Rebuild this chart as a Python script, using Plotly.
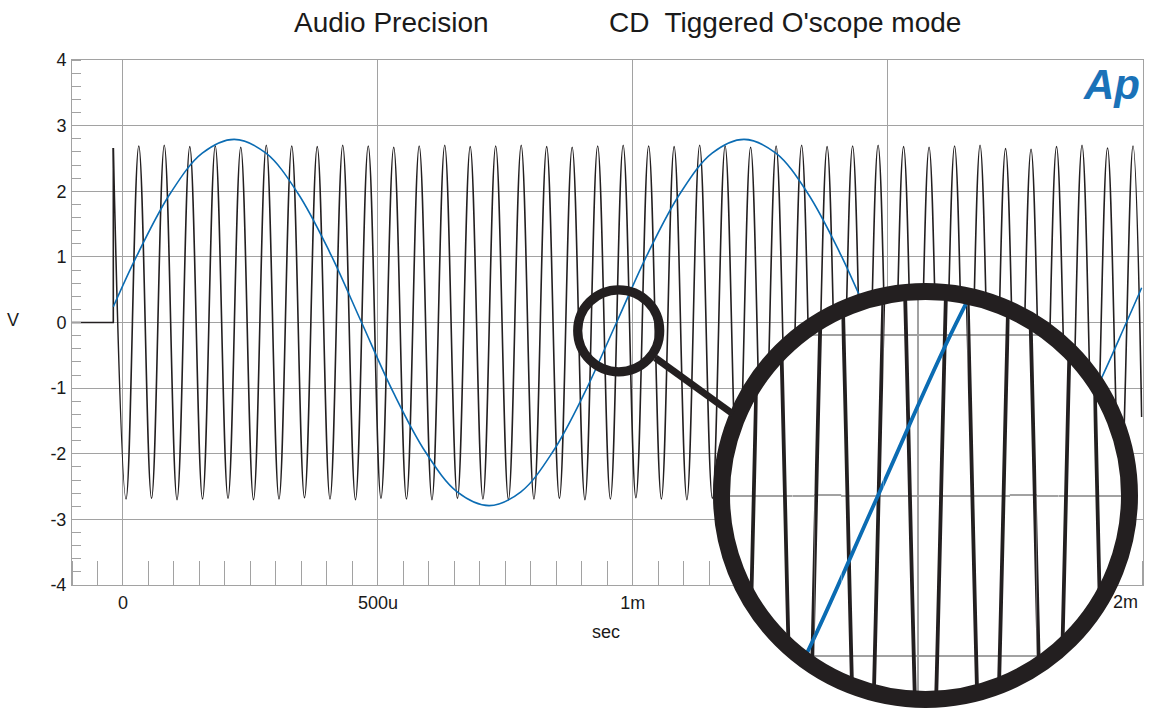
import numpy as np
import plotly.graph_objects as go

# ---------------- data ----------------
# Black: triggered 20 kHz burst. Flat pre-trigger part, then alternating
# peaks / troughs (V) every 25 us, starting at the trigger point.
pre_t = [-0.10, -0.019, -0.019]          # ms
pre_v = [0.0, 0.0, 2.66]                 # V
black_first_ext = -0.019                 # ms (time of first peak)
black_ext_step = 0.025                   # ms between successive extrema
black_peaks = [2.66, 2.69, 2.70, 2.68, 2.69, 2.67, 2.70, 2.69, 2.68, 2.70,
               2.69, 2.67, 2.69, 2.70, 2.68, 2.69, 2.70, 2.68, 2.67, 2.69,
               2.70, 2.69, 2.68, 2.70, 2.69, 2.67, 2.69, 2.70, 2.68, 2.69,
               2.70, 2.68, 2.67, 2.69, 2.70, 2.65, 2.64, 2.68, 2.70, 2.66,
               2.69]
black_troughs = [-2.69, -2.68, -2.70, -2.69, -2.68, -2.70, -2.69, -2.67, -2.69, -2.70,
                 -2.68, -2.69, -2.70, -2.68, -2.69, -2.70, -2.69, -2.68, -2.70, -2.69,
                 -2.67, -2.69, -2.70, -2.68, -2.69, -2.70, -2.69, -2.68, -2.70, -2.69,
                 -2.67, -2.69, -2.70, -2.68, -2.69, -2.70, -2.69, -2.68, -2.70, -2.69]
black_end_t, black_end_v = 1.998, -1.44

# Blue: 1 kHz tone, read at peaks, troughs, zero crossings and in between
blue_t = [-0.019, 0.0305, 0.093, 0.1555, 0.218, 0.2805, 0.343, 0.4055, 0.468,
          0.5305, 0.593, 0.6555, 0.718, 0.7805, 0.843, 0.9055, 0.968,
          1.0305, 1.093, 1.1555, 1.218, 1.2805, 1.343, 1.4055, 1.468,
          1.5305, 1.593, 1.6555, 1.718, 1.7805, 1.843, 1.9055, 1.968, 1.998]
blue_v = [0.24, 1.07, 1.97, 2.58, 2.79, 2.58, 1.97, 1.07, 0.0,
          -1.07, -1.97, -2.58, -2.79, -2.58, -1.97, -1.07, 0.0,
          1.07, 1.97, 2.58, 2.79, 2.58, 1.97, 1.07, 0.0,
          -1.07, -1.97, -2.58, -2.79, -2.58, -1.97, -1.07, 0.0, 0.53]

x_tick_vals = [0.0, 0.5, 1.0, 1.5, 2.0]
x_tick_text = ["0", "500u", "1m", "1.5m", "2m"]
y_tick_vals = [-4, -3, -2, -1, 0, 1, 2, 3, 4]
y_tick_text = ["-4", "-3", "-2", "-1", "0", "1", "2", "3", "4"]

title_left = "Audio Precision"
title_right = "CD\u00a0 Tiggered O'scope mode"
x_title, y_title = "sec", "V"

# ---------------- assemble series ----------------
ext_v = []
for i, pk in enumerate(black_peaks):
    ext_v.append(pk)
    if i < len(black_troughs):
        ext_v.append(black_troughs[i])
ext_t = list(black_first_ext + black_ext_step * np.arange(len(ext_v)))
black_t = ext_t + [black_end_t]
black_v = ext_v + [black_end_v]

# ---------------- styling / geometry ----------------
W, H = 1149, 708
PL, PR, PT, PB = 72.0, 1142.7, 60.0, 585.0
X_RANGE, Y_RANGE = [-0.1, 2.0], [-4.0, 4.0]
BLACK, BLUE, GRID = "#231f20", "#0b6cb3", "#a2a2a2"
FONT = "Arial, Liberation Sans, sans-serif"
px_ms = (PR - PL) / (X_RANGE[1] - X_RANGE[0])
px_V = (PB - PT) / (Y_RANGE[1] - Y_RANGE[0])


def fx(x):
    return x / W


def fy(y):
    return 1 - y / H


fig = go.Figure()

# main traces
fig.add_trace(go.Scatter(x=pre_t, y=pre_v, mode="lines",
                         line=dict(color=BLACK, width=1.6), hoverinfo="skip"))
fig.add_trace(go.Scatter(x=black_t, y=black_v, mode="lines",
                         line=dict(color=BLACK, width=1.6, shape="spline",
                                   smoothing=1.1, simplify=False),
                         hoverinfo="skip"))
fig.add_trace(go.Scatter(x=blue_t, y=blue_v, mode="lines",
                         line=dict(color=BLUE, width=1.6, shape="spline",
                                   smoothing=1.0, simplify=False),
                         hoverinfo="skip"))

layout = dict(
    width=W, height=H, autosize=False,
    margin=dict(l=0, r=0, t=0, b=0, pad=0, autoexpand=False),
    paper_bgcolor="white", plot_bgcolor="white",
    showlegend=False,
    font=dict(family=FONT, color="#1a1a1a", size=18),
    xaxis=dict(domain=[fx(PL), fx(PR)], range=X_RANGE, anchor="y",
               showgrid=True, gridcolor=GRID, gridwidth=1,
               tickvals=x_tick_vals,
               ticktext=x_tick_text[:-1] + [""],
               ticks="", showline=True, mirror=True, linecolor=GRID, linewidth=1,
               zeroline=False, ticklabelstandoff=1, automargin=False,
               tickfont=dict(size=18, family=FONT, color="#1a1a1a"),
               minor=dict(dtick=0.05, tick0=0, ticks="inside", ticklen=24,
                          tickcolor=GRID, tickwidth=1, showgrid=False),
               fixedrange=True),
    yaxis=dict(domain=[fy(PB), fy(PT)], range=Y_RANGE, anchor="x",
               showgrid=True, gridcolor=GRID, gridwidth=1,
               tickvals=y_tick_vals, ticktext=y_tick_text,
               ticks="", showline=True, mirror=True, linecolor=GRID, linewidth=1,
               zeroline=False, ticklabelstandoff=1, automargin=False,
               tickfont=dict(size=18, family=FONT, color="#1a1a1a"),
               minor=dict(dtick=0.2, tick0=0, ticks="inside", ticklen=9,
                          tickcolor=GRID, tickwidth=1, showgrid=False),
               fixedrange=True),
)

shapes = []

# ---------------- magnifier inset ----------------
MAG = 2.45
CX, CY = 925.5, 495.5            # centre of big lens (px)
T_C, V_C = 1.006, 0.0            # data point shown at lens centre
R_RING, RING_W = 204.0, 17.0
R_OUT = R_RING + RING_W / 2 - 2.5
R_IN = R_RING - RING_W / 2 + 1.5
in_px_ms, in_px_V = px_ms * MAG, px_V * MAG

half_heights = []
y_near = 0.0
while y_near < R_IN:
    y_far = float(np.sqrt(R_OUT ** 2 - R_IN ** 2 + y_near ** 2))
    if y_far >= R_OUT:
        break
    half_heights.append(y_far)
    y_near = y_far

for k, Yh in enumerate(half_heights):
    n = k + 2
    Wh = float(np.sqrt(R_OUT ** 2 - Yh ** 2))
    xr = [T_C - Wh / in_px_ms, T_C + Wh / in_px_ms]
    yr = [V_C - Yh / in_px_V, V_C + Yh / in_px_V]
    layout[f"xaxis{n}"] = dict(domain=[fx(CX - Wh), fx(CX + Wh)], range=xr,
                               anchor=f"y{n}", showgrid=True, gridcolor=GRID,
                               gridwidth=2, tickvals=x_tick_vals,
                               showticklabels=False, ticks="", showline=False,
                               zeroline=False, fixedrange=True, automargin=False)
    layout[f"yaxis{n}"] = dict(domain=[fy(CY + Yh), fy(CY - Yh)], range=yr,
                               anchor=f"x{n}", showgrid=True, gridcolor=GRID,
                               gridwidth=2, tickvals=y_tick_vals,
                               showticklabels=False, ticks="", showline=False,
                               zeroline=False, fixedrange=True, automargin=False)
    shapes.append(dict(type="rect", xref=f"x{n}", yref=f"y{n}",
                       x0=xr[0], x1=xr[1], y0=yr[0], y1=yr[1],
                       fillcolor="white", line=dict(width=0), layer="below"))
    fig.add_trace(go.Scatter(x=black_t, y=black_v, mode="lines",
                             xaxis=f"x{n}", yaxis=f"y{n}",
                             line=dict(color=BLACK, width=3.8, shape="spline",
                                       smoothing=1.1, simplify=False),
                             hoverinfo="skip"))
    fig.add_trace(go.Scatter(x=blue_t, y=blue_v, mode="lines",
                             xaxis=f"x{n}", yaxis=f"y{n}",
                             line=dict(color=BLUE, width=3.8, shape="spline",
                                       smoothing=1.0, simplify=False),
                             hoverinfo="skip"))

# ring of the big lens
shapes.append(dict(type="circle", xref="paper", yref="paper", layer="above",
                   x0=fx(CX - R_RING), x1=fx(CX + R_RING),
                   y0=fy(CY + R_RING), y1=fy(CY - R_RING),
                   line=dict(color=BLACK, width=RING_W), fillcolor="rgba(0,0,0,0)"))
# small lens
SCX, SCY, SR, SW = 618.7, 330.8, 41.0, 9.2
shapes.append(dict(type="circle", xref="paper", yref="paper", layer="above",
                   x0=fx(SCX - SR), x1=fx(SCX + SR),
                   y0=fy(SCY + SR), y1=fy(SCY - SR),
                   line=dict(color=BLACK, width=SW), fillcolor="rgba(0,0,0,0)"))
# handle
ang = np.deg2rad(36.5)
hx0, hy0 = SCX + (SR + SW / 2) * np.cos(ang), SCY + (SR + SW / 2) * np.sin(ang)
hx1, hy1 = 733.0, 414.0
shapes.append(dict(type="line", xref="paper", yref="paper", layer="above",
                   x0=fx(hx0), y0=fy(hy0), x1=fx(hx1), y1=fy(hy1),
                   line=dict(color=BLACK, width=7)))

layout["shapes"] = shapes

# ---------------- texts ----------------
ann = []
ann.append(dict(text=title_left, x=fx(391), y=fy(23), xref="paper", yref="paper",
                showarrow=False, xanchor="center", yanchor="middle",
                font=dict(size=28, family=FONT, color="#1a1a1a")))
ann.append(dict(text=title_right, x=fx(784.5), y=fy(23), xref="paper", yref="paper",
                showarrow=False, xanchor="center", yanchor="middle",
                font=dict(size=28, family=FONT, color="#1a1a1a")))
ann.append(dict(text=y_title, x=fx(13), y=fy(320), xref="paper", yref="paper",
                showarrow=False, xanchor="center", yanchor="middle",
                font=dict(size=18, family=FONT, color="#1a1a1a")))
ann.append(dict(text=x_title, x=fx(606), y=fy(632), xref="paper", yref="paper",
                showarrow=False, xanchor="center", yanchor="middle",
                font=dict(size=18, family=FONT, color="#1a1a1a")))
ann.append(dict(text=x_tick_text[-1], x=fx(1139.5), y=fy(601.5), xref="paper",
                yref="paper", showarrow=False, xanchor="right", yanchor="middle",
                font=dict(size=18, family=FONT, color="#1a1a1a")))
ann.append(dict(text="<b><i>Ap</i></b>", x=fx(1111), y=fy(84), xref="paper",
                yref="paper", showarrow=False, xanchor="center", yanchor="middle",
                font=dict(size=42, family=FONT, color="#1a72b8")))
layout["annotations"] = ann

fig.update_layout(**layout)
fig.update_traces(showlegend=False)

fig.write_html("out.html", config={"displayModeBar": False, "staticPlot": True},
               post_script="document.body.style.margin='0px';")
